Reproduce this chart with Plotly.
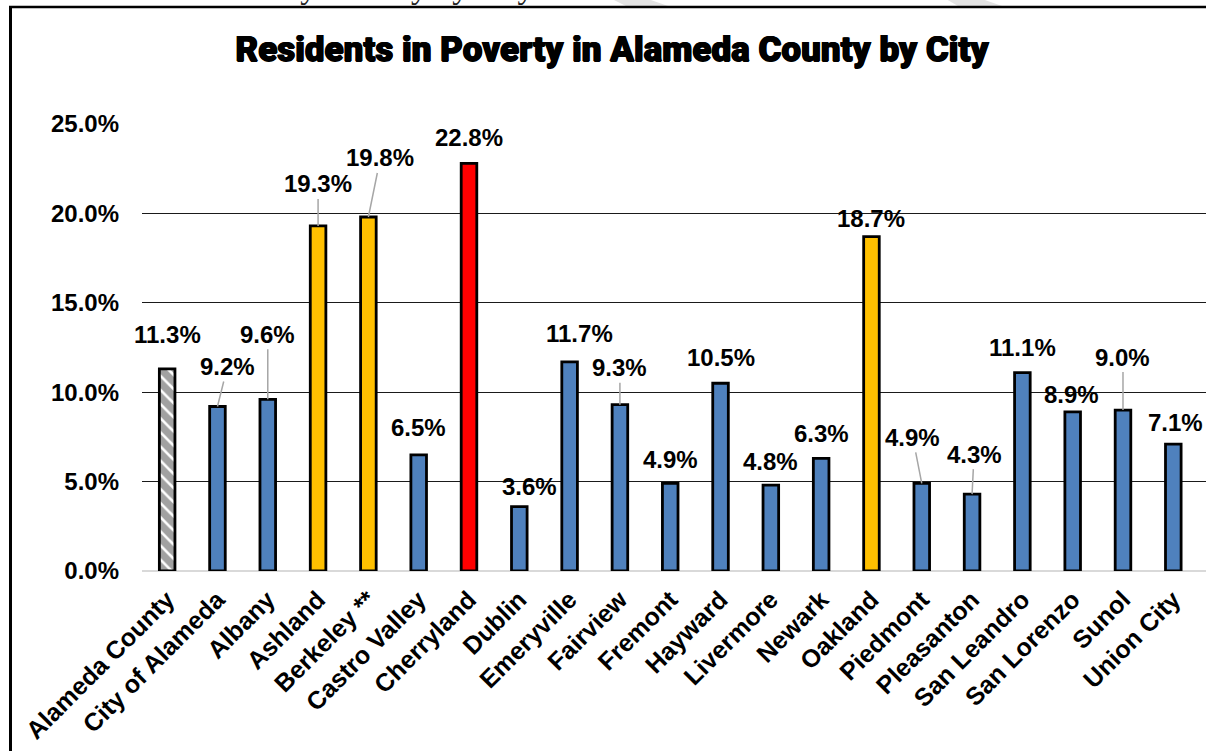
import plotly.graph_objects as go

# ---- data -------------------------------------------------------------
cities = [
    "Alameda County", "City of Alameda", "Albany", "Ashland", "Berkeley **",
    "Castro Valley", "Cherryland", "Dublin", "Emeryville", "Fairview",
    "Fremont", "Hayward", "Livermore", "Newark", "Oakland", "Piedmont",
    "Pleasanton", "San Leandro", "San Lorenzo", "Sunol", "Union City",
]
poverty_pct = [
    11.3, 9.2, 9.6, 19.3, 19.8, 6.5, 22.8, 3.6, 11.7, 9.3, 4.9,
    10.5, 4.8, 6.3, 18.7, 4.9, 4.3, 11.1, 8.9, 9.0, 7.1,
]
y_ticks = [0, 5, 10, 15, 20, 25]

# ---- styling ----------------------------------------------------------
W, H = 1206, 751
M_L, M_R, M_T, M_B = 142, 0, 124, 180
BLUE, GOLD, RED = "#4F81BD", "#FFC000", "#FF0000"
LEADER = "#A6A6A6"
FONT = "Liberation Sans, Arial, sans-serif"

bar_colors = ["white", BLUE, BLUE, GOLD, GOLD, BLUE, RED, BLUE, BLUE, BLUE,
              BLUE, BLUE, BLUE, BLUE, GOLD, BLUE, BLUE, BLUE, BLUE, BLUE, BLUE]
bar_patterns = ["\\"] + [""] * 20

# label placement relative to the top of each bar (pixels), and whether a
# leader line connects the label to its bar
label_offsets = [
    (0, -34), (10, -40), (0, -65), (0, -42), (12, -59), (0, -27), (0, -26),
    (10, -20), (10, -28), (0, -37), (0, -24), (0, -26), (0, -24), (0, -25),
    (0, -18), (-9, -46), (2, -40), (0, -25), (-1, -17), (0, -53), (2, -22),
]
has_leader = [False, True, True, True, True, False, False, False, False, True,
              False, False, False, False, False, True, True, False, False,
              True, False]


def px_x(px):
    """Pixel x -> paper x."""
    return (px - M_L) / (W - M_L - M_R)


def px_y(py):
    """Pixel y (from top) -> paper y."""
    return (H - M_B - py) / (H - M_T - M_B)


fig = go.Figure()
fig.add_trace(go.Bar(
    x=cities,
    y=poverty_pct,
    width=0.31,
    marker=dict(
        color=bar_colors,
        line=dict(color="black", width=2.8),
        pattern=dict(shape=bar_patterns, fgcolor="black", bgcolor="white",
                     size=10, solidity=0.75),
    ),
    hoverinfo="x+y",
    showlegend=False,
))

annotations = []
for city, val, (dx, dy), lead in zip(cities, poverty_pct, label_offsets, has_leader):
    annotations.append(dict(
        x=city, y=val, xref="x", yref="y",
        text=f"{val:.1f}%",
        showarrow=True, arrowhead=0, arrowwidth=1.5,
        arrowcolor=LEADER if lead else "rgba(0,0,0,0)",
        ax=dx, ay=dy, standoff=0, startstandoff=0,
        font=dict(family=FONT, size=24, color="black", weight="bold"),
    ))

# caption line of the page above the chart frame
annotations.append(dict(
    x=px_x(-23), y=px_y(7), xref="paper", yref="paper",
    xanchor="left", yanchor="bottom", showarrow=False,
    text="Table 3: Alameda County Poverty by City",
    font=dict(family="Liberation Serif, Times New Roman, serif", size=33,
              color="#222222"),
))

shapes = [
    # chart frame: left and top border
    dict(type="line", xref="paper", yref="paper",
         x0=px_x(10.5), x1=px_x(10.5), y0=px_y(7), y1=px_y(H + 5),
         line=dict(color="black", width=3)),
    dict(type="line", xref="paper", yref="paper",
         x0=px_x(9), x1=px_x(W + 5), y0=px_y(7), y1=px_y(7),
         line=dict(color="black", width=2.5)),
    # light watermark strokes on the page
    dict(type="path", xref="paper", yref="paper", layer="below",
         path=(f"M {px_x(612)} {px_y(-1)} L {px_x(648)} {px_y(-1)} "
               f"L {px_x(668)} {px_y(6)} L {px_x(626)} {px_y(6)} Z"),
         fillcolor="#E3E3E3", line=dict(width=0)),
    dict(type="path", xref="paper", yref="paper", layer="below",
         path=(f"M {px_x(946)} {px_y(-1)} L {px_x(982)} {px_y(-1)} "
               f"L {px_x(1002)} {px_y(6)} L {px_x(958)} {px_y(6)} Z"),
         fillcolor="#E3E3E3", line=dict(width=0)),
]

fig.update_layout(
    width=W, height=H,
    margin=dict(l=M_L, r=M_R, t=M_T, b=M_B, pad=0),
    paper_bgcolor="white", plot_bgcolor="white",
    title=dict(
        text="Residents in Poverty in Alameda County by City",
        xref="container", yref="container",
        x=612 / W, y=1 - 49 / H, xanchor="center", yanchor="middle",
        font=dict(family="Roboto, Liberation Sans, Arial, sans-serif",
                  size=35, color="black", weight=900,
                  shadow="0.7px 0 0 #000, -0.7px 0 0 #000, 0 0.5px 0 #000"),
    ),
    bargap=0.69,
    annotations=annotations,
    shapes=shapes,
    xaxis=dict(
        type="category",
        range=[-0.5, 20.65],
        tickangle=-45,
        tickfont=dict(family=FONT, size=25, color="black", weight="bold"),
        showgrid=False, showline=False, ticks="",
        ticklabelstandoff=8,
    ),
    yaxis=dict(
        range=[0, 25],
        tickvals=y_ticks,
        ticktext=[f"{v:.1f}%" for v in y_ticks],
        tickfont=dict(family=FONT, size=24, color="black", weight="bold"),
        showgrid=True, gridcolor="#1A1A1A", gridwidth=1,
        zeroline=True, zerolinecolor="#D9D9D9", zerolinewidth=2,
        showline=False, ticks="",
        ticklabelstandoff=22,
    ),
)

fig.write_html("out.html")
